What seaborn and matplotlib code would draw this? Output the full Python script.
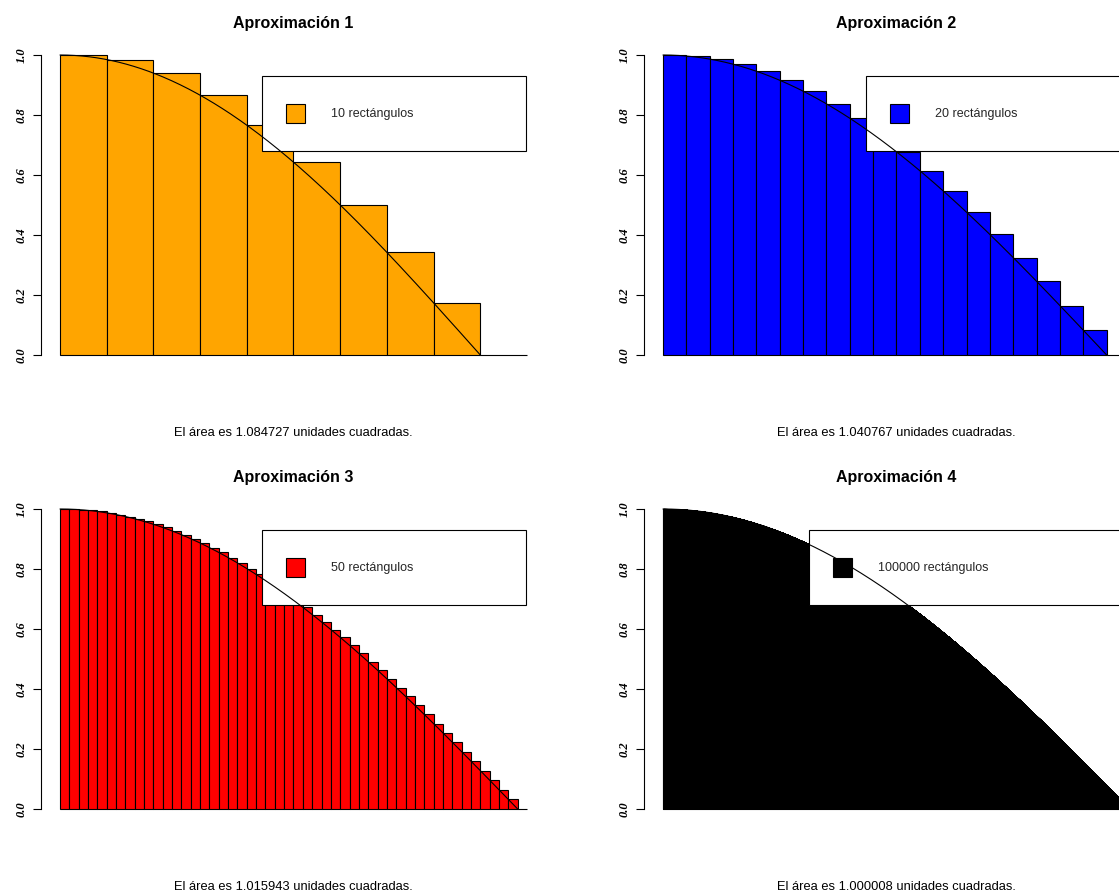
import numpy as np
import pandas as pd
import matplotlib
matplotlib.use("Agg")
import matplotlib.pyplot as plt
import seaborn as sns
from matplotlib.patches import Patch, Rectangle
from matplotlib.legend_handler import HandlerPatch

# Riemann approximations of cos(x) on [0, pi/2]
titles = ["Aproximación 1", "Aproximación 2", "Aproximación 3", "Aproximación 4"]
rect_counts = [10, 20, 50, 100000]
fill_colors = ["#FFA500", "#0000FF", "#FF0000", "#000000"]
x_start, x_end = 0.0, np.pi / 2
y_ticks = [0.0, 0.2, 0.4, 0.6, 0.8, 1.0]
y_tick_labels = ["0.0", "0.2", "0.4", "0.6", "0.8", "1.0"]

sns.set_theme(style="ticks")
plt.rcParams["font.family"] = ["Liberation Sans", "DejaVu Sans"]

W, H = 1119, 892
fig = plt.figure(figsize=(W / 100, H / 100), dpi=100)
fig.patch.set_facecolor("white")

# panel geometry in pixels
panel_dx, panel_dy = 603, 454
ax_left, ax_top, ax_w, ax_h = 41.3, 43.0, 504.4, 324.0
legend_left = [0.432, 0.435, 0.432, 0.312]
legend_top = 0.931


def square_key(legend, orig_handle, xdescent, ydescent, width, height,
               fontsize):
    # square swatch, vertically centred in a tall key box
    side = width
    return Rectangle((-xdescent, -ydescent + (height - side) / 2), side, side)


for k in range(4):
    r, c = divmod(k, 2)
    n = rect_counts[k]
    left = ax_left + c * panel_dx
    top = ax_top + r * panel_dy
    ax = fig.add_axes([left / W, 1 - (top + ax_h) / H, ax_w / W, ax_h / H])
    ax.set_facecolor("white")

    step = (x_end - x_start) / (n - 1)
    sample_x = x_start + np.arange(n) * step
    heights = np.cos(sample_x)
    area = step * heights.sum()

    bars = pd.DataFrame({"pos": np.arange(n) + 0.5, "height": heights})
    element = "bars" if n <= 1000 else "step"
    sns.histplot(data=bars, x="pos", weights="height", binwidth=1,
                 binrange=(0, n), element=element, fill=True,
                 color=fill_colors[k], edgecolor="black", linewidth=0.8,
                 alpha=1, ax=ax)

    # the exact curve, scaled to bar units
    t = np.linspace(x_start, x_end, 400)
    curve = pd.DataFrame({"u": t / step, "v": np.cos(t)})
    sns.lineplot(data=curve, x="u", y="v", color="black", linewidth=0.8,
                 estimator=None, sort=False, ax=ax, zorder=6)

    ax.set_xlim(-0.04 * n, 1.04 * n)
    ax.set_ylim(-0.04, 1.04)

    for side in ["top", "right", "bottom"]:
        ax.spines[side].set_visible(False)
    ax.spines["left"].set_bounds(0, 1)
    ax.spines["left"].set_linewidth(0.8)
    ax.spines["left"].set_color("black")

    ax.tick_params(axis="x", bottom=False, labelbottom=False)
    ax.set_yticks(y_ticks)
    ax.set_yticklabels(y_tick_labels, rotation=90, va="center", ha="right",
                       fontweight="bold", fontstyle="italic",
                       family=["Liberation Serif", "DejaVu Serif"])
    ax.tick_params(axis="y", length=6.1, width=0.8, pad=3.6, labelsize=9,
                   color="black", labelcolor="black")

    ax.set_ylabel("")
    ax.set_xlabel(f"El área es {area:.6f} unidades cuadradas.", fontsize=9.3,
                  labelpad=43.5, color="black")
    ax.set_title(titles[k], fontweight="bold", fontsize=11.5, pad=10.5,
                 color="black")

    x0 = legend_left[k] * n
    handle = Patch(facecolor=fill_colors[k], edgecolor="black", linewidth=0.8)
    leg = ax.legend([handle], [f"{n} rectángulos"], loc="upper left",
                    bbox_to_anchor=(x0, legend_top, 0.998 * n - x0, 0),
                    bbox_transform=ax.transData, mode="expand",
                    borderaxespad=0, borderpad=1.92, handlelength=1.52,
                    handleheight=2.946, handletextpad=2.08, fontsize=9,
                    fancybox=False, framealpha=1, frameon=True,
                    handler_map={Patch: HandlerPatch(patch_func=square_key)})
    frame = leg.get_frame()
    frame.set_edgecolor("black")
    frame.set_linewidth(0.8)
    frame.set_facecolor("white")
    leg.set_zorder(5)

fig.savefig("out.png", dpi=100, facecolor="white")
